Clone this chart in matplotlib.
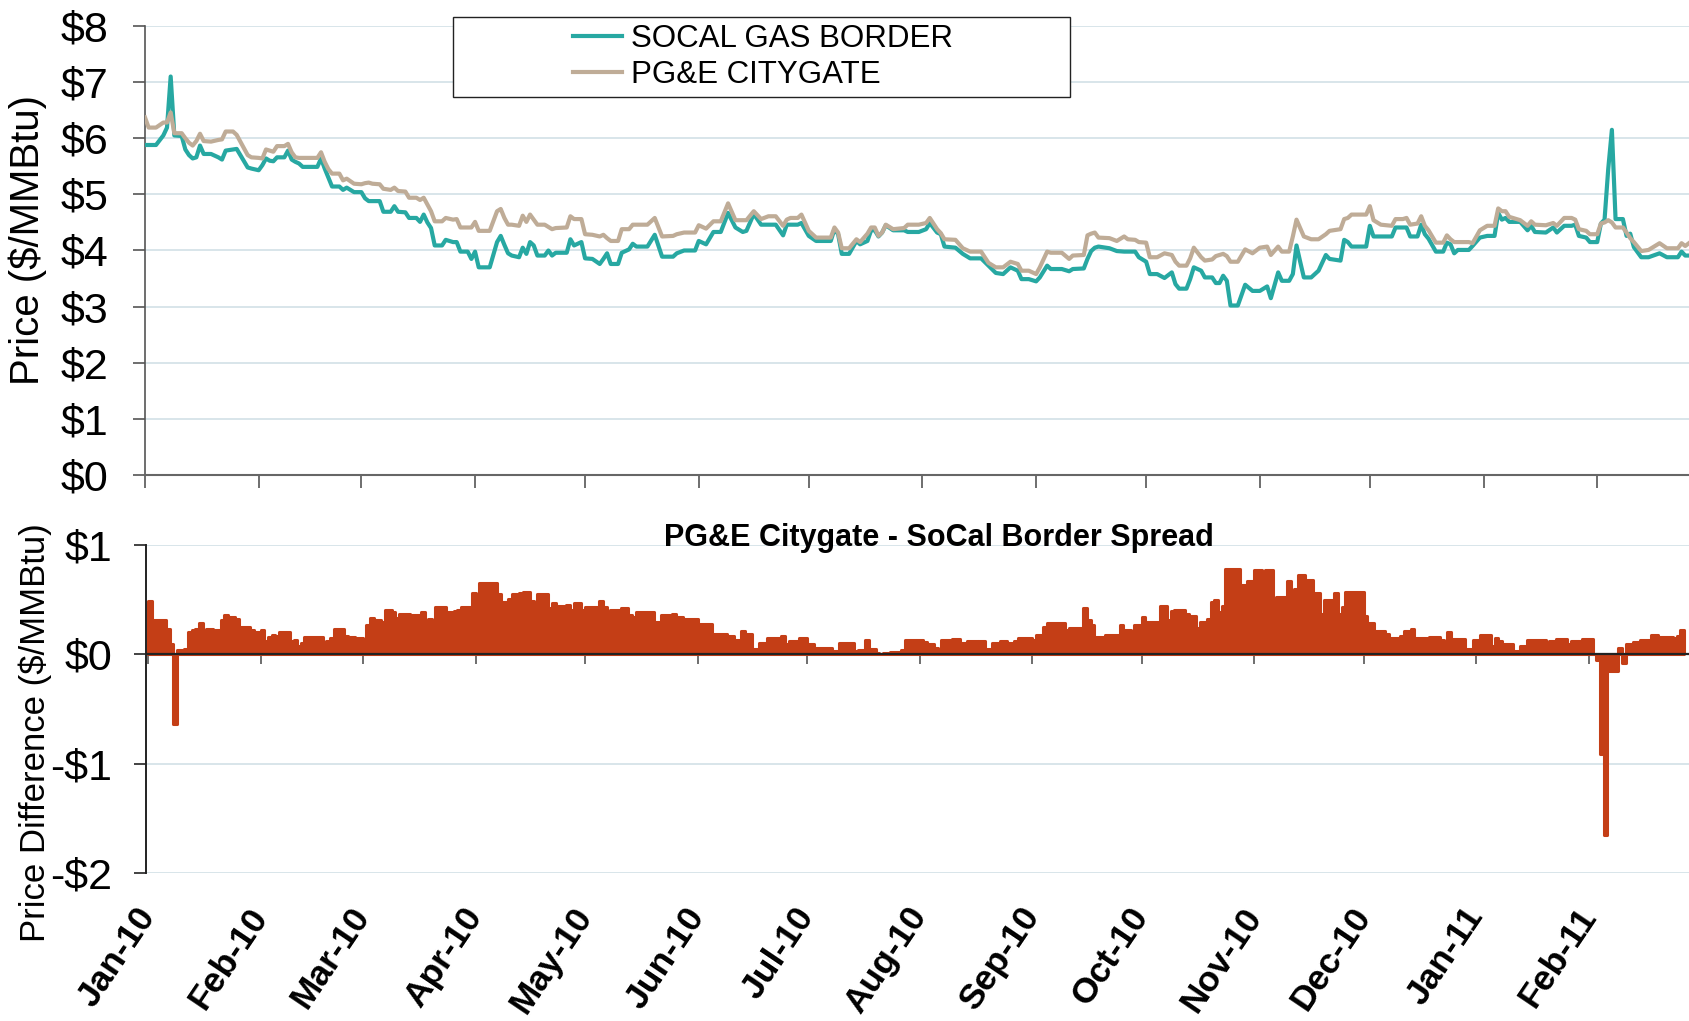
import numpy as np
import matplotlib
matplotlib.use('Agg')
import matplotlib.pyplot as plt
from matplotlib.patches import Rectangle
from matplotlib.ticker import FuncFormatter

plt.rcParams['font.family'] = ['Liberation Sans', 'DejaVu Sans']

# days counted from 1 Jan 2010, values in $/MMBtu
days = [0, 1, 3, 5, 6, 7, 8, 10, 11, 12, 13, 14, 15, 16, 18, 20, 21, 22, 24, 25,
        28, 29, 31, 32, 33, 34, 35, 36, 38, 39, 40, 41, 42, 43, 47, 48, 49, 50, 51, 53,
        54, 55, 57, 59, 60, 61, 62, 64, 65, 67, 68, 69, 71, 72, 74, 75, 76, 77, 78, 79,
        81, 82, 84, 85,
        86, 88, 89, 90, 91, 94, 96, 97, 98, 99, 100, 102, 103, 104, 105, 106, 107, 109, 110, 111,
        112, 115, 116, 117, 119, 120, 122, 124, 125, 126, 127, 129, 130, 132, 133, 134, 137, 139, 141, 144,
        145, 147, 150, 151, 153, 155, 157, 159, 161, 163, 164, 166, 168, 170,
        172, 174, 175, 176, 178, 179, 181, 183, 187, 188, 189, 190, 192, 194, 195, 197, 198, 199, 200, 201,
        202, 204, 207, 208, 211, 213, 214, 216, 217, 218, 221, 223, 225, 228, 230, 232, 234, 236, 238, 239,
        241, 243, 244, 246, 247, 250, 252, 253, 256,
        257, 258, 259, 260, 263, 265, 267, 268, 270, 271, 273, 274, 276, 278, 280, 281, 282, 284, 285, 286,
        288, 289, 291, 292, 293, 294, 295, 296, 298, 300, 302, 304, 306, 307, 309, 310, 312, 313, 314, 315,
        316, 318, 320, 322, 323, 326, 327, 328, 329, 333, 334, 335, 337, 340, 341, 343,
        344, 345, 347, 348, 349, 350, 352, 354, 355, 356, 357, 358, 361, 362, 364, 366, 368, 369, 370, 371,
        372, 375, 377, 378, 379, 382, 384, 385, 387, 389, 390, 391, 393, 394, 396, 397, 398, 399, 400, 401,
        403, 404, 405, 406, 408, 410, 413, 415, 418, 419, 420, 421]

socal = [5.88, 5.88, 5.88, 6.05, 6.19, 7.10, 6.05, 6.04, 5.80, 5.70, 5.64, 5.66, 5.87, 5.72, 5.72, 5.66, 5.62, 5.78, 5.80, 5.81,
         5.48, 5.46, 5.43, 5.52, 5.64, 5.60, 5.59, 5.66, 5.66, 5.78, 5.62, 5.58, 5.55, 5.49, 5.49, 5.64, 5.46, 5.30, 5.14, 5.14,
         5.08, 5.12, 5.04, 5.04, 4.93, 4.88, 4.88, 4.88, 4.69, 4.69, 4.79, 4.69, 4.68, 4.58, 4.58, 4.51, 4.64, 4.50, 4.40, 4.09,
         4.09, 4.19, 4.15, 4.15,
         3.98, 3.98, 3.85, 3.98, 3.70, 3.70, 4.15, 4.26, 4.10, 3.95, 3.91, 3.88, 4.05, 3.94, 4.15, 4.09, 3.91, 3.91, 4.00, 3.91,
         3.96, 3.96, 4.20, 4.09, 4.15, 3.86, 3.85, 3.76, 3.85, 3.95, 3.76, 3.76, 3.96, 4.02, 4.12, 4.07, 4.07, 4.28, 3.89, 3.89,
         3.95, 4.00, 4.00, 4.17, 4.11, 4.33, 4.33, 4.67, 4.41, 4.33, 4.35, 4.65, 4.46, 4.46,
         4.46, 4.27, 4.46, 4.46, 4.46, 4.49, 4.26, 4.17, 4.17, 4.38, 4.29, 3.94, 3.94, 4.17, 4.11, 4.17, 4.36, 4.36, 4.25, 4.32,
         4.45, 4.36, 4.36, 4.33, 4.33, 4.38, 4.49, 4.32, 4.29, 4.07, 4.05, 3.94, 3.86, 3.86, 3.73, 3.60, 3.58, 3.70, 3.64, 3.49,
         3.49, 3.45, 3.52, 3.73, 3.67, 3.67, 3.63, 3.67, 3.68,
         3.85, 3.99, 4.05, 4.07, 4.04, 3.99, 3.98, 3.98, 3.98, 3.88, 3.80, 3.58, 3.58, 3.51, 3.61, 3.40, 3.32, 3.32, 3.49, 3.70,
         3.64, 3.52, 3.52, 3.42, 3.42, 3.55, 3.46, 3.02, 3.02, 3.39, 3.28, 3.28, 3.36, 3.15, 3.61, 3.46, 3.46, 3.58, 4.09, 3.80,
         3.52, 3.52, 3.64, 3.92, 3.85, 3.82, 4.19, 4.15, 4.07, 4.07, 4.44, 4.25, 4.25, 4.25, 4.41, 4.41,
         4.41, 4.25, 4.25, 4.46, 4.29, 4.21, 3.98, 3.98, 4.14, 4.11, 3.95, 4.01, 4.01, 4.08, 4.23, 4.26, 4.26, 4.67, 4.55, 4.58,
         4.51, 4.51, 4.36, 4.44, 4.33, 4.32, 4.41, 4.32, 4.44, 4.44, 4.46, 4.26, 4.23, 4.15, 4.15, 4.48, 4.55, 5.45, 6.15, 4.56,
         4.56, 4.26, 4.30, 4.06, 3.88, 3.88, 3.95, 3.88, 3.88, 3.98, 3.91, 3.91]

pge = [6.37, 6.19, 6.19, 6.28, 6.28, 6.46, 6.09, 6.09, 6.00, 5.92, 5.87, 5.95, 6.08, 5.95, 5.94, 5.97, 5.98, 6.12, 6.12, 6.06,
       5.70, 5.66, 5.65, 5.64, 5.80, 5.78, 5.76, 5.86, 5.86, 5.90, 5.75, 5.66, 5.65, 5.65, 5.65, 5.75, 5.58, 5.45, 5.37, 5.37,
       5.25, 5.28, 5.19, 5.18, 5.20, 5.21, 5.19, 5.18, 5.10, 5.08, 5.12, 5.06, 5.05, 4.94, 4.94, 4.90, 4.94, 4.82, 4.70, 4.52,
       4.52, 4.58, 4.55, 4.56,
       4.41, 4.41, 4.41, 4.51, 4.35, 4.35, 4.70, 4.74, 4.58, 4.46, 4.46, 4.44, 4.62, 4.51, 4.64, 4.55, 4.46, 4.46, 4.42, 4.38,
       4.40, 4.41, 4.61, 4.56, 4.56, 4.29, 4.28, 4.25, 4.28, 4.22, 4.17, 4.17, 4.38, 4.38, 4.46, 4.46, 4.46, 4.58, 4.25, 4.26,
       4.29, 4.32, 4.32, 4.45, 4.39, 4.52, 4.52, 4.84, 4.54, 4.54, 4.54, 4.70, 4.56, 4.61,
       4.61, 4.44, 4.55, 4.58, 4.58, 4.64, 4.35, 4.23, 4.23, 4.41, 4.32, 4.04, 4.04, 4.20, 4.15, 4.30, 4.41, 4.41, 4.26, 4.32,
       4.46, 4.38, 4.40, 4.46, 4.46, 4.49, 4.58, 4.38, 4.31, 4.20, 4.19, 4.04, 3.98, 3.98, 3.78, 3.70, 3.70, 3.80, 3.76, 3.64,
       3.64, 3.58, 3.70, 3.98, 3.96, 3.96, 3.85, 3.91, 3.92,
       4.27, 4.30, 4.32, 4.23, 4.22, 4.17, 4.25, 4.20, 4.19, 4.15, 4.14, 3.88, 3.88, 3.95, 3.92, 3.80, 3.73, 3.73, 3.86, 4.05,
       3.88, 3.82, 3.84, 3.90, 3.92, 3.94, 3.90, 3.80, 3.80, 4.02, 3.95, 4.05, 4.07, 3.92, 4.07, 3.98, 3.98, 4.25, 4.55, 4.40,
       4.25, 4.20, 4.20, 4.29, 4.35, 4.38, 4.56, 4.58, 4.64, 4.64, 4.79, 4.54, 4.46, 4.44, 4.56, 4.56,
       4.58, 4.46, 4.48, 4.61, 4.44, 4.36, 4.14, 4.14, 4.27, 4.20, 4.15, 4.15, 4.15, 4.13, 4.36, 4.44, 4.44, 4.75, 4.70, 4.70,
       4.60, 4.54, 4.44, 4.52, 4.46, 4.45, 4.49, 4.44, 4.58, 4.58, 4.55, 4.38, 4.35, 4.29, 4.29, 4.48, 4.50, 4.54, 4.50, 4.41,
       4.41, 4.32, 4.22, 4.15, 3.99, 4.01, 4.13, 4.04, 4.04, 4.13, 4.08, 4.13]

month_labels = ['Jan-10', 'Feb-10', 'Mar-10', 'Apr-10', 'May-10', 'Jun-10', 'Jul-10',
                'Aug-10', 'Sep-10', 'Oct-10', 'Nov-10', 'Dec-10', 'Jan-11', 'Feb-11']

assert len(days) == len(socal) == len(pge)

days = np.array(days, dtype=float)
socal = np.array(socal)
pge = np.array(pge)
spread = pge - socal
widths = np.append(np.diff(days), 1.0)

months = np.arange('2010-01', '2011-03', dtype='datetime64[M]')
month_pos = (months.astype('datetime64[D]') - np.datetime64('2010-01-01')).astype(int)

teal = '#27A8A2'
tan = '#BFAC97'
rust = '#C43E16'
grid_c = '#D5E3E8'

def dollars(v, pos):
    return f'${v:.0f}' if v >= 0 else f'-${-v:.0f}'

fig = plt.figure(figsize=(16.9, 10.21), dpi=100)

# upper panel: prices
ax1 = fig.add_axes([145 / 1690, 1 - 475 / 1021, 1 - 145 / 1690, 449 / 1021])
ax1.plot(days, socal, color=teal, lw=3.0, label='SOCAL GAS BORDER', zorder=3)
ax1.plot(days, pge, color=tan, lw=3.0, label='PG&E CITYGATE', zorder=3)
ax1.set_xlim(0, 421.3)
ax1.set_ylim(0, 8)
ax1.set_yticks(range(0, 9))
ax1.yaxis.set_major_formatter(FuncFormatter(dollars))
ax1.yaxis.grid(True, color=grid_c, lw=1.3)
ax1.set_axisbelow(True)
ax1.set_xticks(month_pos)
ax1.set_xticklabels([])
ax1.tick_params(axis='x', length=9.5, width=1.2, color='#555555')
ax1.tick_params(axis='y', length=8.6, width=1.2, color='#555555', labelsize=31, pad=18)
for s in ['top', 'right']:
    ax1.spines[s].set_visible(False)
ax1.spines['left'].set_color('#555555')
ax1.spines['left'].set_linewidth(1.2)
ax1.spines['bottom'].set_color('#666666')
ax1.spines['bottom'].set_linewidth(1.5)

# legend with a wide box drawn around it
fig.patches.append(Rectangle((453 / 1690, 1 - 97 / 1021), 617 / 1690, 80 / 1021,
                             transform=fig.transFigure, fill=True, facecolor='white',
                             edgecolor='#222222', lw=1.0, zorder=5))
leg = fig.legend(handles=ax1.get_lines(), loc='center', bbox_to_anchor=(763 / 1690, 1 - 57 / 1021),
                 frameon=False, fontsize=22.5, handlelength=1.55, handletextpad=0.3,
                 labelspacing=0.22, borderpad=0)
leg.set_zorder(6)

fig.text(28 / 1690, 1 - 240 / 1021, 'Price ($/MMBtu)', rotation=90, ha='center', va='center', fontsize=29)

# lower panel: spread
ax2 = fig.add_axes([146.5 / 1690, 1 - 873 / 1021, 1 - 146.5 / 1690, 328 / 1021])
ax2.bar(days, spread, width=widths, align='edge', color=rust, edgecolor=rust,
        lw=2.2, joinstyle='round', zorder=2)
ax2.set_xlim(-0.4, 423.7)
ax2.set_ylim(-2, 1)
ax2.set_yticks([-2, -1, 0, 1])
ax2.yaxis.set_major_formatter(FuncFormatter(dollars))
ax2.yaxis.grid(True, color=grid_c, lw=1.3)
ax2.set_axisbelow(True)
ax2.axhline(0, color='#222222', lw=1.6, zorder=4)
ax2.set_xticks(month_pos)
ax2.set_xticklabels(month_labels, rotation=56, ha='right', va='center',
                    rotation_mode='anchor', fontsize=25.5, fontweight='bold')
ax2.tick_params(axis='x', length=0, pad=27)
ax2.tick_params(axis='y', length=8.6, width=1.2, color='#222222', labelsize=31, pad=16)
for s in ['top', 'right', 'bottom']:
    ax2.spines[s].set_visible(False)
ax2.spines['left'].set_color('#222222')
ax2.spines['left'].set_linewidth(1.4)

zero_axis = ax2.secondary_xaxis(2 / 3)
zero_axis.set_alignment('bottom')
zero_axis.set_xticks(month_pos)
zero_axis.set_xticklabels([])
zero_axis.tick_params(length=7.5, width=1.2, color='#555555')
zero_axis.spines['bottom'].set_visible(False)

fig.text(939 / 1690, 1 - 538 / 1021, 'PG&E Citygate - SoCal Border Spread',
         ha='center', va='center', fontsize=22, fontweight='bold')
fig.text(35 / 1690, 1 - 733 / 1021, 'Price Difference ($/MMBtu)', rotation=90,
         ha='center', va='center', fontsize=25)

fig.savefig('out.png', dpi=100)
